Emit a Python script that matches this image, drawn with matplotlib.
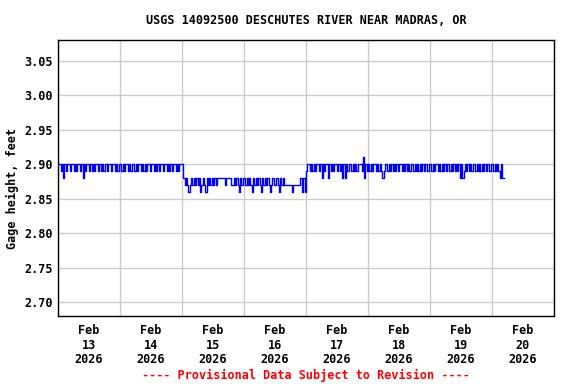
import matplotlib
matplotlib.use("Agg")
import matplotlib.pyplot as plt
import pandas as pd

title = "USGS 14092500 DESCHUTES RIVER NEAR MADRAS, OR"
ylabel = "Gage height, feet"
footer = "---- Provisional Data Subject to Revision ----"

# Gage height codes per half hour: 0=2.86, 1=2.87, 2=2.88, 3=2.89, 4=2.90, 5=2.91
feb13 = "44342434" "43443434" "43424344" "34343443" "43434434" "43443434"
feb14 = "43434434" "34434344" "34343443" "44343434" "43443434" "34434344"
feb15 = "42121012" "12121201" "21021212" "12122222" "21222211" "21210212"
feb16 = "21212102" "12121021" "21210121" "12102121" "11111011" "11122020"
feb17 = "34434343" "44342434" "42434344" "34342424" "34434343" "44435243"
feb18 = "43434434" "34323443" "43434343" "44343434" "34434343" "43434434"
feb19 = "43434434" "34343443" "43434342" "42343434" "34434343" "43434434"
feb20 = "4343432422"

codes = feb13 + feb14 + feb15 + feb16 + feb17 + feb18 + feb19 + feb20
values = [2.86 + 0.01 * int(c) for c in codes]
times = pd.date_range("2026-02-13 00:00", periods=len(values), freq="30min")

yticks = [2.70, 2.75, 2.80, 2.85, 2.90, 2.95, 3.00, 3.05]
day_labels = ["Feb\n13\n2026", "Feb\n14\n2026", "Feb\n15\n2026", "Feb\n16\n2026",
              "Feb\n17\n2026", "Feb\n18\n2026", "Feb\n19\n2026", "Feb\n20\n2026"]

font = "DejaVu Sans Mono"
fs = 8.5
fig = plt.figure(figsize=(5.76, 3.84), dpi=100)
ax = fig.add_axes([58/576, 1-316/384, (554-58)/576, (316-40)/384])

ax.plot(times, values, color="#0000ff", lw=1.0, drawstyle="steps-post")

start = pd.Timestamp("2026-02-13 00:00")
end = pd.Timestamp("2026-02-21 00:00")
ax.set_xlim(start, end)
ax.set_ylim(2.68, 3.08)

midnights = pd.date_range(start, end, freq="1D")
noons = pd.date_range("2026-02-13 12:00", periods=8, freq="1D")
ax.set_xticks(midnights)
ax.set_xticklabels([])
ax.set_xticks(noons, minor=True)
ax.set_xticklabels(day_labels, minor=True, fontfamily=font, fontweight="bold",
                   fontsize=fs, linespacing=1.15)
ax.set_yticks(yticks)
ax.set_yticklabels([f"{v:.2f}" for v in yticks], fontfamily=font, fontweight="bold", fontsize=fs)
ax.tick_params(axis="both", which="both", length=0, pad=4)
ax.tick_params(axis="x", which="minor", pad=6)

ax.grid(True, which="major", color="#cccccc", lw=1)
ax.set_axisbelow(True)
for s in ax.spines.values():
    s.set_color("black")
    s.set_linewidth(1)

fig.text(12/576, 1-188/384, ylabel, rotation=90, ha="center", va="center",
         fontfamily=font, fontweight="bold", fontsize=fs)
fig.text(306/576, 1-20/384, title, ha="center", va="center",
         fontfamily=font, fontweight="bold", fontsize=fs)
fig.text(306/576, 1-375/384, footer, ha="center", va="center", color="#ff0000",
         fontfamily=font, fontweight="bold", fontsize=fs)

fig.savefig("out.png", dpi=100)
